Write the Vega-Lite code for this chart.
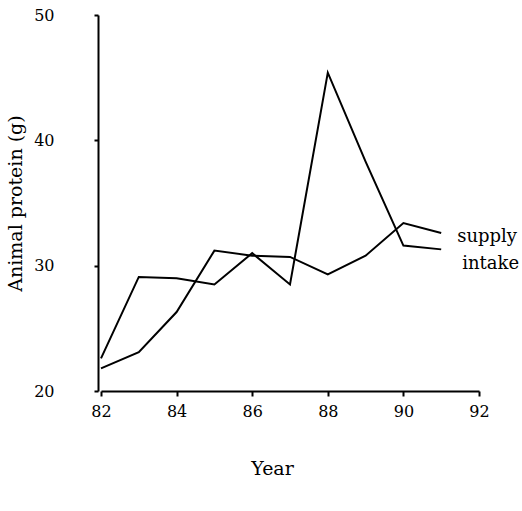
{
  "$schema": "https://vega.github.io/schema/vega-lite/v6.json",
  "autosize": "none",
  "width": 378,
  "height": 376,
  "padding": {"left": 101, "top": 15, "right": 43, "bottom": 120},
  "background": "white",
  "config": {
    "view": {"stroke": null},
    "font": "DejaVu Serif",
    "axis": {"grid": false, "domainColor": "black", "tickColor": "black", "labelColor": "black", "titleColor": "black", "labelFont": "DejaVu Serif", "titleFont": "DejaVu Serif", "titleFontWeight": "normal", "domainWidth": 2, "tickWidth": 2}
  },
  "data": {
    "values": [
      {"year": 82, "value": 21.8, "series": "supply"},
      {"year": 83, "value": 23.1, "series": "supply"},
      {"year": 84, "value": 26.3, "series": "supply"},
      {"year": 85, "value": 31.2, "series": "supply"},
      {"year": 86, "value": 30.8, "series": "supply"},
      {"year": 87, "value": 30.7, "series": "supply"},
      {"year": 88, "value": 29.3, "series": "supply"},
      {"year": 89, "value": 30.8, "series": "supply"},
      {"year": 90, "value": 33.4, "series": "supply"},
      {"year": 91, "value": 32.6, "series": "supply"},
      {"year": 82, "value": 22.6, "series": "intake"},
      {"year": 83, "value": 29.1, "series": "intake"},
      {"year": 84, "value": 29.0, "series": "intake"},
      {"year": 85, "value": 28.5, "series": "intake"},
      {"year": 86, "value": 31.0, "series": "intake"},
      {"year": 87, "value": 28.5, "series": "intake"},
      {"year": 88, "value": 45.4, "series": "intake"},
      {"year": 89, "value": 38.3, "series": "intake"},
      {"year": 90, "value": 31.6, "series": "intake"},
      {"year": 91, "value": 31.3, "series": "intake"}
    ]
  },
  "encoding": {
    "x": {
      "field": "year", "type": "quantitative",
      "scale": {"domain": [82, 92], "nice": false, "zero": false},
      "axis": {"values": [82, 84, 86, 88, 90, 92], "title": "Year", "labelFontSize": 16, "titleFontSize": 19, "labelPadding": 7, "labelFlush": false, "tickSize": 5, "titlePadding": 40, "titleX": 171}
    },
    "y": {
      "field": "value", "type": "quantitative",
      "scale": {"domain": [20, 50], "nice": false, "zero": false},
      "axis": {"values": [20, 30, 40, 50], "title": "Animal protein (g)", "labelFontSize": 16, "titleFontSize": 19, "labelPadding": 40, "labelFlush": false, "tickSize": 4, "titlePadding": 8, "offset": 3}
    }
  },
  "layer": [
    {
      "mark": {"type": "line", "color": "black", "strokeWidth": 2},
      "encoding": {"detail": {"field": "series"}}
    },
    {
      "transform": [{"filter": "datum.year == 91 && datum.series == 'supply'"}],
      "mark": {"type": "text", "align": "left", "baseline": "middle", "dx": 16, "dy": 4, "fontSize": 18, "color": "black"},
      "encoding": {"text": {"field": "series"}}
    },
    {
      "transform": [{"filter": "datum.year == 91 && datum.series == 'intake'"}],
      "mark": {"type": "text", "align": "left", "baseline": "middle", "dx": 21, "dy": 15, "fontSize": 18, "color": "black"},
      "encoding": {"text": {"field": "series"}}
    }
  ]
}
